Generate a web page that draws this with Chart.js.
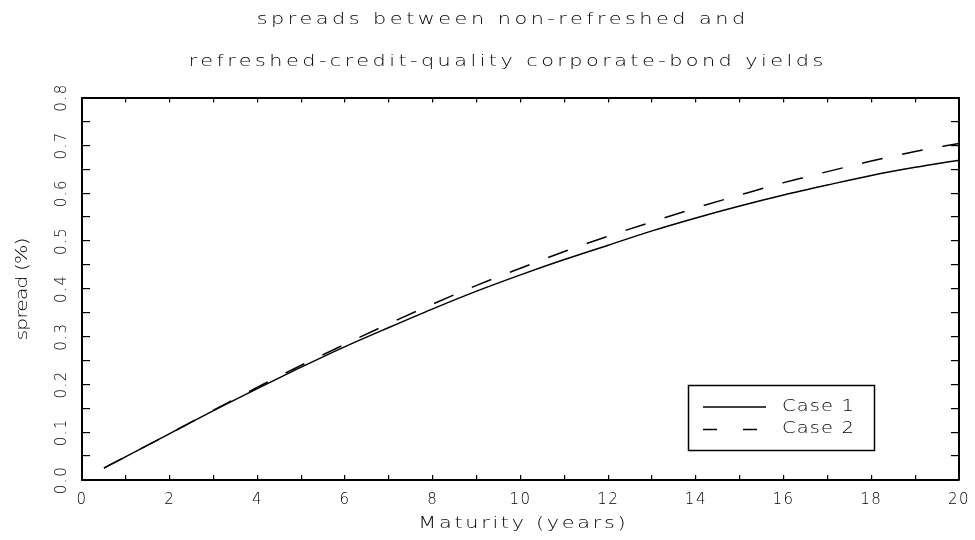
<!DOCTYPE html>
<html>
<head>
<meta charset="utf-8">
<script src="https://cdn.jsdelivr.net/npm/chart.js@4.4.1/dist/chart.umd.min.js"></script>
<style>
  html, body { margin: 0; padding: 0; background: #fff; }
</style>
</head>
<body>
<canvas id="canvas" width="975" height="540"></canvas>
<script>
// heading text (two lines) and axis titles
const headingLines = [
    'spreads between non-refreshed and',
    'refreshed-credit-quality corporate-bond yields'
];
const xTitle = 'Maturity (years)';
const yTitle = 'spread (%)';

// maturity in years, spread in %
const maturity = [0.5, 1, 2, 3, 4, 5, 6, 7, 8, 9, 10, 11, 12, 13, 14, 15, 16, 17, 18, 19, 20];
const case1 = [0.025, 0.049, 0.097, 0.145, 0.191, 0.236, 0.279, 0.319, 0.358, 0.395, 0.429,
               0.461, 0.491, 0.521, 0.548, 0.573, 0.596, 0.617, 0.637, 0.654, 0.669];
const case2 = [0.025, 0.049, 0.097, 0.146, 0.194, 0.240, 0.284, 0.327, 0.368, 0.407, 0.443,
               0.478, 0.510, 0.540, 0.569, 0.596, 0.622, 0.645, 0.667, 0.687, 0.704];
const seriesLabels = ['Case 1', 'Case 2'];

const xRange = [0, 20];
const yRange = [0, 0.8];

const FONT = '"DejaVu Sans"';
const STRETCH = 1.3;

function points(xs, ys) {
    return xs.map((x, i) => ({ x: x, y: ys[i] }));
}

// wide, spaced-out text so it looks like the old plotter font
function spacedText(ctx, text, x, y, width) {
    ctx.save();
    ctx.letterSpacing = '0px';
    const w = ctx.measureText(text).width;
    const sp = (width / STRETCH - w) / text.length;
    ctx.letterSpacing = sp + 'px';
    ctx.translate(x, y);
    ctx.scale(STRETCH, 1);
    const dx = ctx.textAlign === 'center' ? sp / 2 : 0;
    ctx.fillText(text, dx, 0);
    ctx.restore();
}

const frameText = {
    id: 'frameText',
    beforeDraw(chart) {
        chart.ctx.letterSpacing = '1.5px';
    },
    afterDraw(chart) {
        const ctx = chart.ctx;
        ctx.save();
        ctx.fillStyle = '#000';
        ctx.textAlign = 'center';
        ctx.textBaseline = 'middle';

        ctx.font = '200 16px ' + FONT;
        spacedText(ctx, headingLines[0], 501, 20, 492);
        spacedText(ctx, headingLines[1], 506, 62, 638);

        ctx.font = '200 16px ' + FONT;
        spacedText(ctx, xTitle, 522, 524, 210);
        ctx.save();
        ctx.translate(23, 289);
        ctx.rotate(-Math.PI / 2);
        spacedText(ctx, yTitle, 0, 0, 102);
        ctx.restore();

        // legend box
        ctx.strokeStyle = '#000';
        ctx.lineWidth = 1.5;
        ctx.strokeRect(688.5, 385.5, 186, 65);
        ctx.font = '200 15px ' + FONT;
        ctx.textAlign = 'left';
        chart.data.datasets.forEach((ds, i) => {
            const y = 407 + i * 22.5;
            ctx.lineWidth = 1.5;
            ctx.setLineDash(ds.borderDash ? [14, 26] : []);
            ctx.beginPath();
            ctx.moveTo(703, y);
            ctx.lineTo(766, y);
            ctx.stroke();
            ctx.setLineDash([]);
            spacedText(ctx, ds.label, 782, y, 73);
        });
        ctx.restore();
    }
};

const tickFont = { family: FONT, size: 15, weight: 200 };
const edgeGrid = (len) => ({ drawOnChartArea: false, tickLength: len, color: '#000', lineWidth: 1.2 });
const edgeBorder = { color: '#000', width: 2 };
const noPad = (s) => { s.paddingLeft = 0; s.paddingRight = 0; s.paddingTop = 0; s.paddingBottom = 0; };

new Chart(document.getElementById('canvas'), {
    type: 'line',
    data: {
        datasets: [{
            label: seriesLabels[0],
            data: points(maturity, case1),
            borderColor: '#000',
            borderWidth: 1.5,
            pointRadius: 0,
            cubicInterpolationMode: 'monotone',
            fill: false
        }, {
            label: seriesLabels[1],
            data: points(maturity, case2),
            borderColor: '#000',
            borderWidth: 1.5,
            borderDash: [21, 20],
            pointRadius: 0,
            cubicInterpolationMode: 'monotone',
            fill: false
        }]
    },
    options: {
        responsive: false,
        animation: false,
        layout: { padding: 0 },
        plugins: {
            legend: { display: false },
            title: { display: false },
            tooltip: { enabled: false }
        },
        scales: {
            x: {
                type: 'linear',
                position: 'bottom',
                min: xRange[0],
                max: xRange[1],
                afterFit: (s) => { s.height = 60; noPad(s); },
                ticks: {
                    stepSize: 1,
                    autoSkip: false,
                    maxRotation: 0,
                    padding: 16,
                    color: '#000',
                    font: tickFont,
                    callback: (v) => (v % 2 === 0 ? String(v) : '')
                },
                grid: edgeGrid(-5),
                border: edgeBorder
            },
            x2: {
                type: 'linear',
                position: 'top',
                min: xRange[0],
                max: xRange[1],
                afterFit: (s) => { s.height = 97.5; noPad(s); },
                ticks: { display: false, stepSize: 1, autoSkip: false },
                grid: edgeGrid(-5),
                border: edgeBorder
            },
            y: {
                type: 'linear',
                position: 'left',
                min: yRange[0],
                max: yRange[1],
                afterFit: (s) => { s.width = 82; noPad(s); },
                ticks: {
                    stepSize: 0.05,
                    autoSkip: false,
                    minRotation: 90,
                    maxRotation: 90,
                    crossAlign: 'center',
                    padding: 16,
                    color: '#000',
                    font: tickFont,
                    callback: (v) => (Math.round(v * 100) % 10 === 0 ? v.toFixed(1) : '')
                },
                grid: edgeGrid(-8),
                border: edgeBorder
            },
            y2: {
                type: 'linear',
                position: 'right',
                min: yRange[0],
                max: yRange[1],
                afterFit: (s) => { s.width = 16; noPad(s); },
                ticks: { display: false, stepSize: 0.05, autoSkip: false },
                grid: edgeGrid(-8),
                border: edgeBorder
            }
        }
    },
    plugins: [frameText]
});
</script>
</body>
</html>
